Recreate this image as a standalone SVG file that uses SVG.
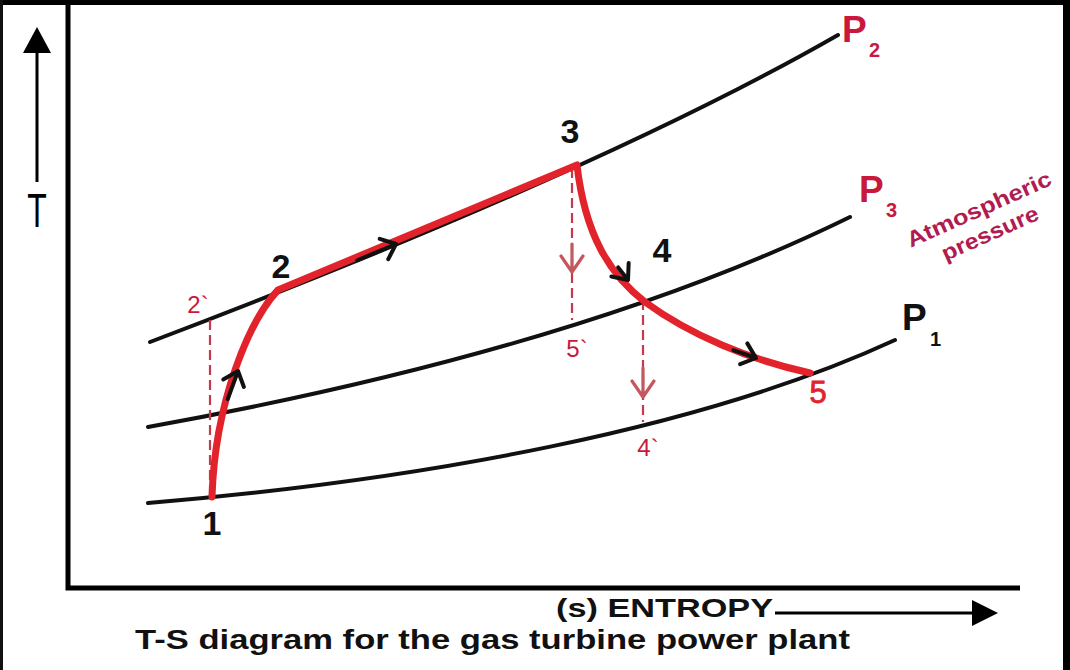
<svg xmlns="http://www.w3.org/2000/svg" width="1070" height="670" viewBox="0 0 1070 670">
<style>
.iso{fill:none;stroke:#111;stroke-width:4;stroke-linecap:round}
.cyc{fill:none;stroke:#e3232b;stroke-width:7;stroke-linejoin:round;stroke-linecap:round}
.dash{fill:none;stroke:#c23a4c;stroke-width:2.2;stroke-dasharray:10 5}
.darr{fill:none;stroke:#c4585e;stroke-width:3.2;stroke-linecap:round;stroke-linejoin:round}
.flow{fill:none;stroke:#111;stroke-width:4;stroke-linecap:round;stroke-linejoin:round}
.num{font-family:"Liberation Sans",Arial,sans-serif;font-size:34px;font-weight:bold;fill:#111;text-anchor:middle}
.pink{font-family:"Liberation Sans",Arial,sans-serif;font-size:24px;fill:#c8193c;text-anchor:middle}
.pl{font-family:"Liberation Sans",Arial,sans-serif;font-weight:bold}
</style>
<rect width="1070" height="670" fill="#ffffff"/>
<g id="frame">
<rect x="0" y="0" width="1070" height="5" fill="#000"/>
<rect x="0" y="0" width="3" height="670" fill="#111"/>
<rect x="1063" y="0" width="7" height="670" fill="#000"/>
</g>
<g id="axes">
<path d="M68,4 L68,588 L1020,588" fill="none" stroke="#000" stroke-width="5"/>
<line x1="37" y1="182" x2="37" y2="50" stroke="#000" stroke-width="3"/>
<polygon points="37,27 23,53 51,53" fill="#000"/>
<text transform="translate(37,227) scale(0.8,1.2)" font-family="Liberation Sans,Arial,sans-serif" font-size="40" text-anchor="middle" fill="#000">T</text>
<line x1="775" y1="613" x2="975" y2="613" stroke="#000" stroke-width="3"/>
<polygon points="998,613 972,600 972,626" fill="#000"/>
<text x="556" y="617" textLength="217" lengthAdjust="spacingAndGlyphs" font-family="Liberation Sans,Arial,sans-serif" font-size="25" font-weight="bold" fill="#111">(s) ENTROPY</text>
<text x="135" y="649" textLength="715" lengthAdjust="spacingAndGlyphs" font-family="Liberation Sans,Arial,sans-serif" font-size="28" font-weight="bold" fill="#111">T-S diagram for the gas turbine power plant</text>
</g>
<g id="isobars">
<path id="P2" class="iso" d="M150,342 C300,285 620,160 838,35"/>
<path id="P3" class="iso" d="M148,427 C380,385 640,320 850,217"/>
<path id="P1" class="iso" d="M148,503 C420,480 700,430 895,340"/>
</g>
<g id="connectors">
<line class="dash" x1="210" y1="320" x2="210" y2="495"/>
<line class="dash" x1="572" y1="168" x2="572" y2="320"/>
<line class="dash" x1="643" y1="300" x2="643" y2="422"/>
<path class="darr" d="M561,256 L572,272 L583,256 M572,244 L572,272"/>
<path class="darr" d="M632,381 L643,397 L654,381 M643,368 L643,397"/>
<path class="cyc" d="M212,497 C215,400 250,320 278,290 L577,165 C585,235 610,275 645,302 C690,335 750,360 810,373"/>
<g class="flow">
<path transform="translate(238,371) rotate(-70)" d="M-30,0 L0,0 M-13,-11 L0,0 L-13,11"/>
<path transform="translate(396,244) rotate(-22.8)" d="M-42,0 L0,0 M-13,-11 L0,0 L-13,11"/>
<path transform="translate(628,280) rotate(52)" d="M-16,0 L0,0 M-13,-11 L0,0 L-13,11"/>
<path transform="translate(756,358) rotate(19)" d="M-24,0 L0,0 M-13,-11 L0,0 L-13,11"/>
</g>
</g>
<g id="point1"><text class="num" x="212" y="535">1</text></g>
<g id="point2"><text class="num" x="281" y="278">2</text></g>
<g id="point3"><text class="num" x="570" y="143">3</text></g>
<g id="point4"><text class="num" x="662" y="262">4</text></g>
<g id="point5"><text x="818" y="403" font-family="Liberation Sans,Arial,sans-serif" font-size="31" fill="#e3232b" stroke="#e3232b" stroke-width="0.8" text-anchor="middle">5</text></g>
<g id="point2p"><text class="pink" x="198" y="313">2`</text></g>
<g id="point5p"><text class="pink" x="577" y="357">5`</text></g>
<g id="point4p"><text class="pink" x="648" y="456">4`</text></g>
<g id="labelP2"><text class="pl" x="842" y="42" font-size="37" fill="#c8193c">P</text><text class="pl" x="869" y="57" font-size="20" fill="#c8193c">2</text></g>
<g id="labelP3"><text class="pl" x="859" y="202" font-size="37" fill="#c8193c">P</text><text class="pl" x="886" y="217" font-size="20" fill="#c8193c">3</text></g>
<g id="labelP1"><text class="pl" x="902" y="330" font-size="37" fill="#111">P</text><text class="pl" x="930" y="346" font-size="20" fill="#111">1</text></g>
<g id="atmospheric" font-family="Liberation Sans,Arial,sans-serif" font-size="22" font-weight="bold" fill="#b01c50" text-anchor="middle">
<text transform="translate(982,216) rotate(-24)" textLength="156" lengthAdjust="spacingAndGlyphs">Atmospheric</text>
<text transform="translate(993,240) rotate(-24)" textLength="104" lengthAdjust="spacingAndGlyphs">pressure</text>
</g>
</svg>
